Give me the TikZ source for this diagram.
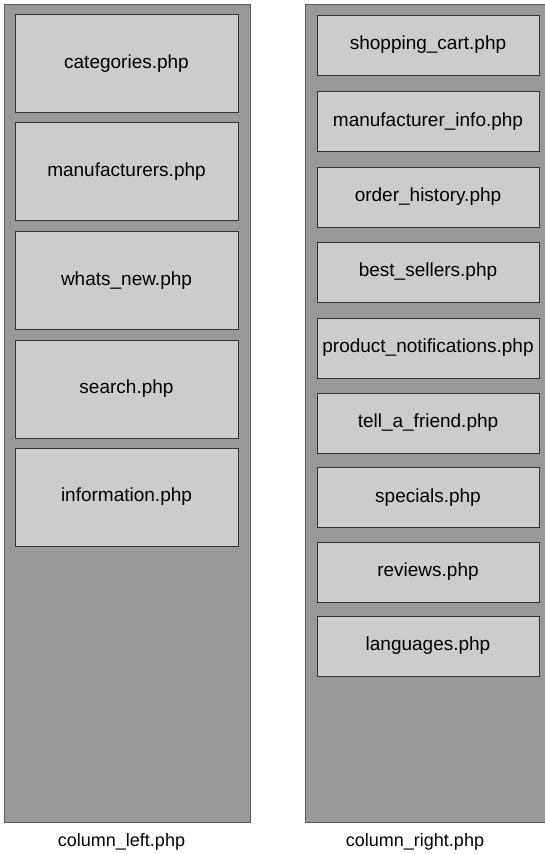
\documentclass[tikz,border=0pt]{standalone}
\usepackage{fontspec}
\setmainfont{Liberation Sans}
\definecolor{colfill}{HTML}{999999}
\definecolor{colline}{HTML}{5A5A5A}
\definecolor{boxfill}{HTML}{CCCCCC}
\definecolor{boxline}{HTML}{333333}
\tikzset{
  column/.style={draw=colline, fill=colfill, line width=1.2pt, rectangle, inner sep=0pt, anchor=north west},
  leftbox/.style={draw=boxline, fill=boxfill, line width=1pt, rectangle, inner sep=0pt,
    minimum width=223pt, minimum height=98pt, font=\fontsize{19}{22}\selectfont},
  rightbox/.style={draw=boxline, fill=boxfill, line width=1pt, rectangle, inner sep=0pt,
    minimum width=222pt, minimum height=60pt, font=\fontsize{19}{22}\selectfont},
  collabel/.style={inner sep=0pt, font=\fontsize{18}{22}\selectfont}
}
\begin{document}
\begin{tikzpicture}[x=1pt,y=-1pt]
\useasboundingbox (0,0) rectangle (545,854);
\fill[white] (0,0) rectangle (545,854);
% columns
\node[column, minimum width=246pt, minimum height=818pt] (colL) at (4,4) {};
\node[column, minimum width=246pt, minimum height=818pt] (colR) at (305,4) {};
% left boxes
\node[leftbox] (categories) at (126.5,63.5) {categories.php};
\node[leftbox] (manufacturers) at (126.5,171.5) {manufacturers.php};
\node[leftbox] (whatsnew) at (126.5,280.5) {whats\_new.php};
\node[leftbox] (search) at (126.5,389) {search.php};
\node[leftbox] (information) at (126.5,497) {information.php};
% right boxes
\node[rightbox] (cart) at (428,45) {shopping\_cart.php};
\node[rightbox] (manuinfo) at (428,121.5) {manufacturer\_info.php};
\node[rightbox] (orderhist) at (428,197) {order\_history.php};
\node[rightbox] (bestsell) at (428,272) {best\_sellers.php};
\node[rightbox] (prodnotif) at (428,348) {product\_notifications.php};
\node[rightbox] (tellfriend) at (428,423) {tell\_a\_friend.php};
\node[rightbox] (specials) at (428,497.5) {specials.php};
\node[rightbox] (reviews) at (428,572) {reviews.php};
\node[rightbox] (languages) at (428,646) {languages.php};
% labels
\node[collabel] (labL) at (121.5,842) {column\_left.php};
\node[collabel] (labR) at (415,842) {column\_right.php};
\end{tikzpicture}
\end{document}
